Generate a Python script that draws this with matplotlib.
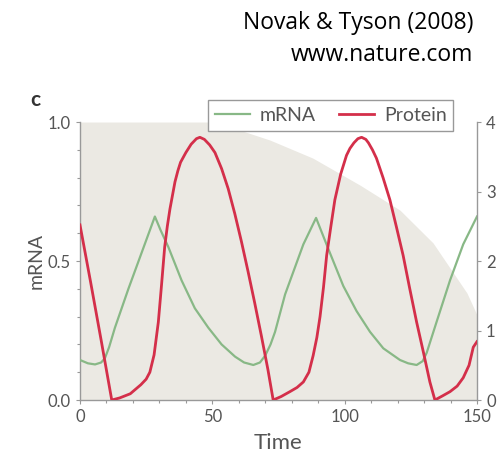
import numpy as np
import matplotlib.pyplot as plt
from matplotlib.ticker import MultipleLocator

# mRNA (left axis, 0-1)
mrna_t = [0, 3, 5.7, 8, 9.4, 11, 13.2, 18.3, 23.3, 28.3, 30.5, 33.4, 38.4, 43.4,
          48.5, 53.5, 58.6, 62, 65.5, 68, 70, 72, 73.7, 77.5, 84.4, 89.2, 94.4,
          99.5, 104.5, 109.6, 114.6, 120.9, 124, 127.2, 129.5, 131, 134.7, 139.8,
          144.8, 150]
mrna_v = [0.144, 0.132, 0.128, 0.135, 0.15, 0.19, 0.26, 0.40, 0.53, 0.66, 0.61,
          0.55, 0.43, 0.33, 0.26, 0.20, 0.156, 0.135, 0.126, 0.135, 0.16, 0.20,
          0.245, 0.38, 0.56, 0.655, 0.53, 0.41, 0.32, 0.245, 0.186, 0.144, 0.132,
          0.126, 0.14, 0.17, 0.28, 0.43, 0.56, 0.66]

# Protein (right axis, 0-4)
prot_t = [0, 4, 8, 12, 15, 19, 23, 25, 26.4, 28, 29.6, 30.8, 32, 33, 34, 35.9,
          37, 38, 40, 42, 44, 45.3, 47, 49, 51, 53.5, 56, 58.5, 61, 63.5, 66,
          68.5, 71, 73, 76, 79.3, 82, 84.4, 86.5, 88.1, 89.5, 90.7, 92, 93.2,
          94.8, 96.3, 98.5, 100.7, 102, 103.5, 105, 106.4, 108, 109, 110.5, 112,
          114.5, 117.1, 119.5, 122.1, 124.5, 127.2, 129.8, 132.2, 134.1, 137,
          139.8, 142.5, 144.8, 147, 148.6, 150]
prot_v = [2.52, 1.70, 0.86, 0.0, 0.03, 0.09, 0.22, 0.3, 0.4, 0.65, 1.12, 1.65,
          2.2, 2.5, 2.75, 3.14, 3.3, 3.42, 3.56, 3.68, 3.76, 3.78, 3.75, 3.67,
          3.56, 3.33, 3.04, 2.68, 2.28, 1.85, 1.4, 0.93, 0.44, 0.0, 0.05, 0.12,
          0.18, 0.26, 0.4, 0.64, 0.9, 1.2, 1.62, 2.08, 2.5, 2.88, 3.25, 3.52,
          3.62, 3.7, 3.76, 3.78, 3.75, 3.7, 3.6, 3.48, 3.2, 2.88, 2.5, 2.08, 1.62,
          1.12, 0.68, 0.26, 0.0, 0.06, 0.12, 0.2, 0.32, 0.5, 0.76, 0.84]

# shaded background boundary (left axis units)
bg_t = [0, 51, 71.8, 88, 105.8, 120.9, 133.4, 146.2, 150]
bg_top = [1.0, 1.0, 0.935, 0.87, 0.773, 0.683, 0.565, 0.385, 0.306]

green = '#88b886'
red = '#d42f4a'
grey = '#555555'
font = 'Lato'

fig = plt.figure(figsize=(4.98, 4.59), dpi=100)
ax = fig.add_axes([0.1606, 0.1285, 0.7972, 0.6057])
ax2 = ax.twinx()

ax.fill_between(bg_t, 0, bg_top, color='#ebe9e3', lw=0, zorder=0)
l1, = ax.plot(mrna_t, mrna_v, color=green, lw=1.6, label='mRNA', zorder=3,
              solid_joinstyle='round')
l2, = ax2.plot(prot_t, prot_v, color=red, lw=2.0, label='Protein', zorder=3,
               solid_joinstyle='round')

ax.set_xlim(0, 150)
ax.set_ylim(0, 1.0)
ax2.set_ylim(0, 4)

ax.set_xticks([0, 50, 100, 150])
ax.xaxis.set_minor_locator(MultipleLocator(10))
ax.set_yticks([0, 0.5, 1.0])
ax.set_yticklabels(['0.0', '0.5', '1.0'])
ax.yaxis.set_minor_locator(MultipleLocator(0.1))
ax2.set_yticks([0, 1, 2, 3, 4])

for a in (ax, ax2):
    a.spines['top'].set_visible(False)
    for s in ('left', 'right', 'bottom'):
        a.spines[s].set_color('#999999')
        a.spines[s].set_linewidth(1.0)
    a.tick_params(which='both', colors='#999999', labelcolor=grey,
                  labelsize=12, length=3, width=0.8)
    a.tick_params(which='minor', length=2)
    for lab in a.get_xticklabels() + a.get_yticklabels():
        lab.set_fontfamily(font)
ax.spines['right'].set_visible(False)
ax2.spines['left'].set_visible(False)
ax2.spines['bottom'].set_visible(False)

ax.set_xlabel('Time', fontsize=16, color=grey, fontfamily=font, labelpad=6)
ax.set_ylabel('mRNA', fontsize=14, color=grey, fontfamily=font, labelpad=2)

fig.legend([l1, l2], ['mRNA', 'Protein'], loc='upper right',
           bbox_to_anchor=(0.93, 0.803), ncol=2, fancybox=False,
           edgecolor='#999999', framealpha=1, prop={'family': font, 'size': 14},
           labelcolor=grey, handlelength=1.8, handletextpad=0.5,
           columnspacing=1.2, borderpad=0.35)

fig.text(0.06, 0.77, 'c', fontsize=15, fontweight='bold', color='#333333',
         fontfamily=font)
fig.text(0.95, 0.915, 'Novak & Tyson (2008)\nwww.nature.com', ha='right',
         va='center', fontsize=16.5, fontfamily='Open Sans', linespacing=1.45)

fig.savefig('out.png', dpi=100)
